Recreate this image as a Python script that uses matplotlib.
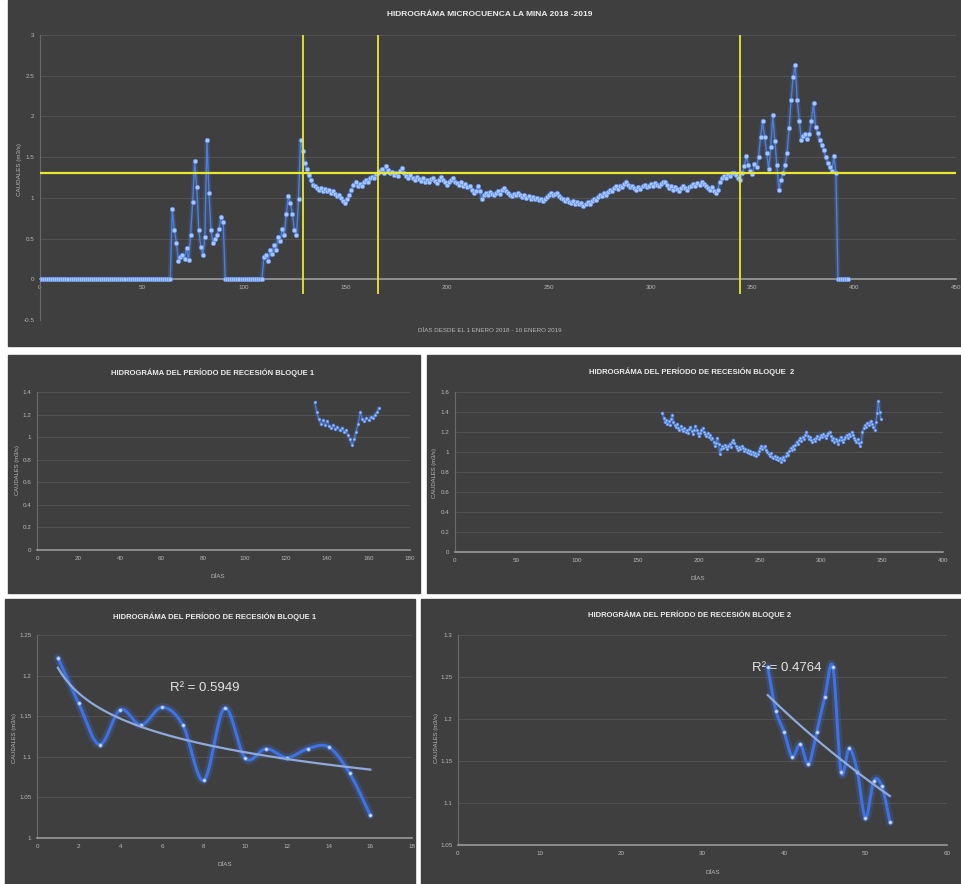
import numpy as np
import matplotlib.pyplot as plt
from matplotlib import font_manager
from matplotlib.patches import Rectangle
from matplotlib.ticker import FuncFormatter, MultipleLocator

# ----------------------------
# Data
# ----------------------------
# daily flow (m3/s), day 0 = 1 Jan 2018
flow_dry_1 = [0.0] * 65                      # days 0-64
flow_event_1 = [0.86, 0.61, 0.45, 0.22, 0.27, 0.30, 0.25, 0.38, 0.24, 0.55,
                0.95, 1.45, 1.13, 0.61, 0.40, 0.30, 0.52, 1.71, 1.06, 0.60,
                0.45, 0.49, 0.55, 0.62, 0.77, 0.70]            # days 65-90
flow_dry_2 = [0.0] * 19                      # days 91-109
flow_event_2 = [0.27, 0.30, 0.22, 0.36, 0.31, 0.42, 0.36, 0.52, 0.47, 0.62,
                0.55, 0.80, 1.02, 0.94, 0.80, 0.61, 0.54, 0.98, 1.71]  # 110-128
flow_block_1 = [1.58, 1.43, 1.35, 1.28, 1.22, 1.16, 1.14, 1.12, 1.10, 1.12,
                1.09, 1.11, 1.08, 1.10, 1.06, 1.08, 1.05, 1.02, 1.04, 1.00,
                0.96, 0.94, 0.98, 1.04, 1.10, 1.16, 1.20, 1.14, 1.17, 1.15,
                1.20, 1.22, 1.19, 1.24, 1.26, 1.24, 1.29, 1.31]  # 129-166
flow_block_2 = [1.33, 1.35, 1.30, 1.39, 1.34, 1.30, 1.32, 1.28, 1.31, 1.27,
                1.33, 1.37, 1.30, 1.27,
                1.25, 1.28, 1.24, 1.22, 1.26, 1.23, 1.21, 1.24, 1.20, 1.22,
                1.19, 1.23, 1.25, 1.21, 1.18, 1.22, 1.26, 1.22, 1.19, 1.16,
                1.19, 1.22, 1.24, 1.20, 1.18, 1.16, 1.19, 1.15, 1.17, 1.13,
                1.14, 1.10, 1.06, 1.09, 1.14, 1.08, 0.98, 1.03, 1.06, 1.04,
                1.07, 1.05, 1.03, 1.06, 1.08, 1.05, 1.10, 1.12, 1.09, 1.06,
                1.04, 1.02, 1.05, 1.03, 1.06, 1.04, 1.01, 1.03, 1.00, 1.02,
                0.99, 1.01, 0.98, 1.00, 0.97, 0.99, 0.96, 0.98, 1.01, 1.04,
                1.06, 1.03, 1.05, 1.06, 1.02, 1.00, 0.98, 0.96, 0.99, 0.95,
                0.94, 0.96, 0.93, 0.95, 0.92, 0.94, 0.90, 0.93, 0.95, 0.92,
                0.96, 0.99, 0.97, 1.01, 1.04, 1.02, 1.06, 1.03, 1.07, 1.10,
                1.08, 1.12, 1.14, 1.11, 1.15, 1.13, 1.17, 1.20, 1.16, 1.13,
                1.15, 1.12, 1.10, 1.13, 1.11, 1.14, 1.16, 1.13, 1.15, 1.17,
                1.15, 1.18, 1.16, 1.14, 1.17, 1.19, 1.20, 1.16, 1.12, 1.14,
                1.10, 1.13, 1.11, 1.08, 1.12, 1.15, 1.12, 1.10, 1.13, 1.15,
                1.17, 1.14, 1.18, 1.16, 1.20, 1.17, 1.14, 1.12, 1.10, 1.13,
                1.09, 1.06, 1.10, 1.20, 1.24, 1.27, 1.25, 1.29, 1.27, 1.30,
                1.31, 1.28, 1.25]                              # 167-343
flow_event_3 = [1.22, 1.30, 1.39, 1.51, 1.40, 1.33, 1.29, 1.42, 1.38, 1.50,
                1.75, 1.94, 1.75, 1.55, 1.35, 1.62, 2.02, 1.70, 1.40, 1.10,
                1.22, 1.30, 1.40, 1.55, 1.86, 2.20, 2.49, 2.63, 2.20, 1.95,
                1.71, 1.76, 1.79, 1.72, 1.79, 1.95, 2.16, 1.87, 1.80, 1.71,
                1.65, 1.59, 1.50, 1.43, 1.38, 1.33, 1.51, 1.31]  # 344-391
flow_dry_3 = [0.0] * 6                       # days 392-397

flow = np.array(flow_dry_1 + flow_event_1 + flow_dry_2 + flow_event_2 +
                flow_block_1 + flow_block_2 + flow_event_3 + flow_dry_3)
days = np.arange(len(flow))

# yellow reference lines
cut_days = [129, 166, 344]
ref_flow = 1.3

# recession block 1 detail (days 134-165)
b1_days = np.arange(134, 166)
b1_flow = [1.31, 1.22, 1.16, 1.12, 1.15, 1.11, 1.14, 1.10, 1.08, 1.11,
           1.07, 1.09, 1.06, 1.08, 1.05, 1.06, 1.02, 0.98, 0.93, 0.98,
           1.05, 1.12, 1.22, 1.16, 1.14, 1.17, 1.15, 1.18, 1.17, 1.20,
           1.22, 1.26]

# recession block 2 detail = days 170-349 of the main series
b2_start, b2_end = 170, 350

# recession curves with log trendlines
rec1_x = np.arange(1, 17)
rec1_y = [1.222, 1.166, 1.115, 1.158, 1.139, 1.161, 1.139, 1.071,
          1.160, 1.098, 1.110, 1.099, 1.110, 1.112, 1.080, 1.028]
rec1_r2 = "R² = 0.5949"
rec2_x = np.arange(38, 54)
rec2_y = [1.262, 1.210, 1.185, 1.155, 1.170, 1.146, 1.184, 1.226,
          1.262, 1.137, 1.165, 1.137, 1.082, 1.126, 1.120, 1.077]
rec2_r2 = "R² = 0.4764"

# ----------------------------
# Style
# ----------------------------
names = {f.name for f in font_manager.fontManager.ttflist}
FONT = 'Liberation Sans Narrow' if 'Liberation Sans Narrow' in names else 'Liberation Sans'
plt.rcParams['font.family'] = [FONT, 'DejaVu Sans']

W, H = 962, 884
PANEL = '#3f3f3f'
GRID = '#565656'
AXIS = '#9a9a9a'
TICK = '#b8b8b8'
TXT = '#ececec'
LINE = '#4a7fe0'
MARK = '#a8c6ff'
YEL = '#e8e830'

fig = plt.figure(figsize=(W / 100, H / 100), dpi=100, facecolor='white')


def panel(x0, y0, x1, y1):
    fig.add_artist(Rectangle((x0 / W, 1 - y1 / H), (x1 - x0) / W, (y1 - y0) / H,
                             transform=fig.transFigure, color=PANEL, zorder=0))


def ftext(x, y, s, **kw):
    fig.text(x / W, 1 - y / H, s, ha='center', va='center', **kw)


def make_axes(x0, y0, x1, y1):
    ax = fig.add_axes([x0 / W, 1 - y1 / H, (x1 - x0) / W, (y1 - y0) / H])
    ax.set_facecolor('none')
    ax.spines['top'].set_visible(False)
    ax.spines['right'].set_visible(False)
    ax.spines['left'].set_color('#6a6a6a')
    ax.spines['bottom'].set_color(AXIS)
    ax.spines['left'].set_linewidth(0.8)
    ax.spines['bottom'].set_linewidth(1.2)
    ax.tick_params(colors=TICK, labelsize=4.5, length=0, pad=4)
    ax.grid(True, axis='y', color=GRID, lw=0.6)
    ax.set_axisbelow(True)
    fmt = FuncFormatter(lambda v, p: f"{round(v, 3):g}")
    ax.yaxis.set_major_formatter(fmt)
    ax.xaxis.set_major_formatter(fmt)
    return ax


def smooth(x, y, n=24):
    # Catmull-Rom curve through the points (like Excel's smoothed line)
    x = np.asarray(x, float)
    y = np.asarray(y, float)
    px = np.r_[x[0], x, x[-1]]
    py = np.r_[y[0], y, y[-1]]
    t = np.linspace(0, 1, n, endpoint=False)[:, None]
    xs, ys = [], []
    for i in range(1, len(px) - 2):
        for p, out in ((px, xs), (py, ys)):
            p0, p1, p2, p3 = p[i - 1], p[i], p[i + 1], p[i + 2]
            seg = 0.5 * (2 * p1 + (-p0 + p2) * t + (2 * p0 - 5 * p1 + 4 * p2 - p3) * t ** 2
                         + (-p0 + 3 * p1 - 3 * p2 + p3) * t ** 3)
            out.append(seg.ravel())
    xs.append([x[-1]])
    ys.append([y[-1]])
    return np.concatenate(xs), np.concatenate(ys)


def series(ax, x, y, lw=1.0, ms=2.4):
    ax.plot(x, y, color=LINE, lw=lw * 3.5, alpha=0.25, solid_capstyle='round', zorder=3)
    ax.plot(x, y, color=LINE, lw=lw, marker='o', ms=ms, mfc=MARK, mec=LINE, mew=0.4, zorder=3)


# ----------------------------
# Panels
# ----------------------------
panel(8, 0, 962, 346)
panel(8, 355, 420, 593)
panel(427, 355, 962, 593)
panel(5, 599, 415, 884)
panel(421, 599, 962, 884)

# --- main hydrograph ---
ax = make_axes(40, 35, 956, 320)
ax.set_xlim(0, 450)
ax.set_ylim(-0.5, 3)
ax.xaxis.set_major_locator(MultipleLocator(50))
ax.yaxis.set_major_locator(MultipleLocator(0.5))
ax.spines['bottom'].set_position(('data', 0))
ax.plot(days, flow, color=LINE, lw=3.5, alpha=0.22, zorder=3)
ax.plot(days, flow, color=LINE, lw=1.0, marker='o', ms=3.2, mfc=MARK,
        mec='#5b8ef0', mew=0.4, zorder=3)
ax.vlines(cut_days, -0.18, 3, color=YEL, lw=1.3, zorder=5)
ax.axhline(ref_flow, color=YEL, lw=1.6, zorder=5)
ax.set_xlim(0, 450)
ftext(490, 15, "HIDROGRÁMA MICROCUENCA LA MINA 2018 -2019", color=TXT, fontsize=6, weight='bold')
ftext(490, 330, "DÍAS DESDE EL 1 ENERO 2018 - 10 ENERO 2019", color=TICK, fontsize=4.5)
ftext(19, 170, "CAUDALES (m3/s)", color=TICK, fontsize=4.5, rotation=90)

# --- recession block 1 (days) ---
ax = make_axes(37, 392, 410, 550)
ax.set_xlim(0, 180)
ax.set_ylim(0, 1.4)
ax.xaxis.set_major_locator(MultipleLocator(20))
ax.yaxis.set_major_locator(MultipleLocator(0.2))
series(ax, b1_days, b1_flow, lw=0.8, ms=2.0)
ftext(213, 373, "HIDROGRÁMA DEL PERÍODO DE RECESIÓN BLOQUE 1", color=TXT, fontsize=5.5, weight='bold')
ftext(218, 577, "DÍAS", color=TICK, fontsize=4.5)
ftext(17, 470, "CAUDALES (m3/s)", color=TICK, fontsize=4.2, rotation=90)

# --- recession block 2 (days) ---
ax = make_axes(455, 392, 943, 552)
ax.set_xlim(0, 400)
ax.set_ylim(0, 1.6)
ax.xaxis.set_major_locator(MultipleLocator(50))
ax.yaxis.set_major_locator(MultipleLocator(0.2))
series(ax, days[b2_start:b2_end], flow[b2_start:b2_end], lw=0.8, ms=2.0)
ftext(692, 372, "HIDROGRÁMA DEL PERÍODO DE RECESIÓN BLOQUE  2", color=TXT, fontsize=5.5, weight='bold')
ftext(698, 579, "DÍAS", color=TICK, fontsize=4.5)
ftext(435, 473, "CAUDALES (m3/s)", color=TICK, fontsize=4.2, rotation=90)

# --- recession curves with trendlines ---
for box, xs, ys, xlim, ylim, xstep, r2, r2pos, title, tpos, lpos, ypos in [
        ((37, 635, 412, 838), rec1_x, rec1_y, (0, 18), (1.0, 1.25), 2, rec1_r2,
         (205, 688), "HIDROGRÁMA DEL PERÍODO DE RECESIÓN BLOQUE 1",
         (215, 617), (225, 865), (15, 738)),
        ((458, 635, 947, 845), rec2_x, rec2_y, (0, 60), (1.05, 1.3), 10, rec2_r2,
         (787, 668), "HIDROGRÁMA DEL PERÍODO DE RECESIÓN BLOQUE 2",
         (690, 615), (713, 872), (437, 738))]:
    ax = make_axes(*box)
    ax.set_xlim(*xlim)
    ax.set_ylim(*ylim)
    ax.xaxis.set_major_locator(MultipleLocator(xstep))
    ax.yaxis.set_major_locator(MultipleLocator(0.05))
    sx, sy = smooth(xs, ys)
    ax.plot(sx, sy, color='#3c6fe0', lw=6, alpha=0.25, solid_capstyle='round', zorder=3)
    ax.plot(sx, sy, color='#3f72e2', lw=2.2, solid_capstyle='round', zorder=3)
    ax.plot(xs, ys, 'o', ms=2.6, mfc='#c9dcff', mec='#5b8ef0', mew=0.4, zorder=4)
    a, b = np.polyfit(np.log(xs), ys, 1)
    tx = np.linspace(xs[0], xs[-1], 100)
    ax.plot(tx, a * np.log(tx) + b, color='#8fa9dc', lw=1.6, zorder=4)
    ftext(*r2pos, r2, color='#e4e4e4', fontsize=9.5)
    ftext(*tpos, title, color=TXT, fontsize=5.5, weight='bold')
    ftext(*lpos, "DÍAS", color=TICK, fontsize=4.5)
    ftext(*ypos, "CAUDALES (m3/s)", color=TICK, fontsize=4.2, rotation=90)

fig.savefig("out.png", dpi=100, facecolor='white')
